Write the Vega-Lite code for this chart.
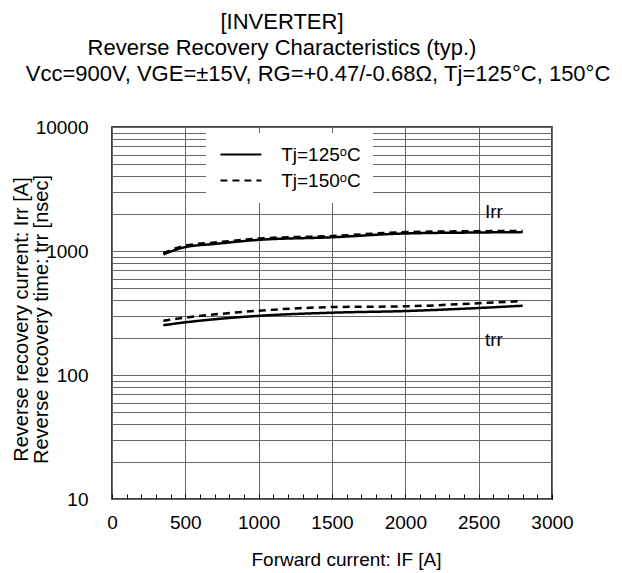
{
  "$schema": "https://vega.github.io/schema/vega-lite/v6.json",
  "width": 440,
  "height": 372,
  "autosize": {"type": "none"},
  "padding": {"left": 112, "top": 127, "right": 70, "bottom": 74},
  "config": {
    "font": "Liberation Sans",
    "view": {"stroke": "black", "strokeWidth": 1.5},
    "text": {"font": "Liberation Sans", "color": "black"}
  },
  "datasets": {
    "curves": [
      {"If": 350, "value": 940, "Tj": "Tj=125ᵒC", "param": "Irr"},
      {"If": 500, "value": 1075, "Tj": "Tj=125ᵒC", "param": "Irr"},
      {"If": 700, "value": 1140, "Tj": "Tj=125ᵒC", "param": "Irr"},
      {"If": 1000, "value": 1230, "Tj": "Tj=125ᵒC", "param": "Irr"},
      {"If": 1500, "value": 1290, "Tj": "Tj=125ᵒC", "param": "Irr"},
      {"If": 2000, "value": 1385, "Tj": "Tj=125ᵒC", "param": "Irr"},
      {"If": 2500, "value": 1410, "Tj": "Tj=125ᵒC", "param": "Irr"},
      {"If": 2800, "value": 1420, "Tj": "Tj=125ᵒC", "param": "Irr"},
      {"If": 350, "value": 960, "Tj": "Tj=150ᵒC", "param": "Irr"},
      {"If": 500, "value": 1105, "Tj": "Tj=150ᵒC", "param": "Irr"},
      {"If": 700, "value": 1170, "Tj": "Tj=150ᵒC", "param": "Irr"},
      {"If": 1000, "value": 1260, "Tj": "Tj=150ᵒC", "param": "Irr"},
      {"If": 1500, "value": 1320, "Tj": "Tj=150ᵒC", "param": "Irr"},
      {"If": 2000, "value": 1420, "Tj": "Tj=150ᵒC", "param": "Irr"},
      {"If": 2500, "value": 1445, "Tj": "Tj=150ᵒC", "param": "Irr"},
      {"If": 2800, "value": 1450, "Tj": "Tj=150ᵒC", "param": "Irr"},
      {"If": 350, "value": 252, "Tj": "Tj=125ᵒC", "param": "trr"},
      {"If": 500, "value": 266, "Tj": "Tj=125ᵒC", "param": "trr"},
      {"If": 750, "value": 285, "Tj": "Tj=125ᵒC", "param": "trr"},
      {"If": 1000, "value": 300, "Tj": "Tj=125ᵒC", "param": "trr"},
      {"If": 1500, "value": 318, "Tj": "Tj=125ᵒC", "param": "trr"},
      {"If": 2000, "value": 328, "Tj": "Tj=125ᵒC", "param": "trr"},
      {"If": 2500, "value": 347, "Tj": "Tj=125ᵒC", "param": "trr"},
      {"If": 2800, "value": 362, "Tj": "Tj=125ᵒC", "param": "trr"},
      {"If": 350, "value": 274, "Tj": "Tj=150ᵒC", "param": "trr"},
      {"If": 500, "value": 290, "Tj": "Tj=150ᵒC", "param": "trr"},
      {"If": 750, "value": 312, "Tj": "Tj=150ᵒC", "param": "trr"},
      {"If": 1000, "value": 330, "Tj": "Tj=150ᵒC", "param": "trr"},
      {"If": 1500, "value": 353, "Tj": "Tj=150ᵒC", "param": "trr"},
      {"If": 2000, "value": 358, "Tj": "Tj=150ᵒC", "param": "trr"},
      {"If": 2500, "value": 379, "Tj": "Tj=150ᵒC", "param": "trr"},
      {"If": 2800, "value": 395, "Tj": "Tj=150ᵒC", "param": "trr"}
    ]
  },
  "layer": [
    {
      "data": {"name": "curves"},
      "mark": {"type": "line", "color": "black", "strokeWidth": 2.5, "interpolate": "monotone"},
      "encoding": {
        "x": {
          "field": "If",
          "type": "quantitative",
          "scale": {"domain": [0, 3000], "nice": false},
          "axis": {
            "values": [0, 100, 200, 300, 400, 500, 600, 700, 800, 900, 1000, 1100, 1200, 1300, 1400, 1500, 1600, 1700, 1800, 1900, 2000, 2100, 2200, 2300, 2400, 2500, 2600, 2700, 2800, 2900, 3000],
            "tickCount": 100,
            "format": "d",
            "labelExpr": "datum.value % 500 === 0 ? datum.label : ''",
            "grid": true,
            "gridColor": "#666666",
            "gridWidth": 1,
            "gridOpacity": {"condition": {"test": "datum.value % 500 === 0", "value": 1}, "value": 0},
            "ticks": true,
            "tickSize": -5,
            "tickColor": "black",
            "domain": false,
            "labelFontSize": 19,
            "labelColor": "black",
            "labelPadding": 19,
            "labelFlush": false,
            "labelOverlap": false,
            "title": "Forward current: IF [A]",
            "titleFontSize": 19,
            "titleFontWeight": "normal",
            "titleColor": "black",
            "titleX": 234,
            "titleY": 60,
            "titleAlign": "center",
            "titleBaseline": "middle"
          }
        },
        "y": {
          "field": "value",
          "type": "quantitative",
          "scale": {"type": "log", "domain": [10, 10000], "nice": false},
          "axis": {
            "values": [10, 20, 30, 40, 50, 60, 70, 80, 90, 100, 200, 300, 400, 500, 600, 700, 800, 900, 1000, 2000, 3000, 4000, 5000, 6000, 7000, 8000, 9000, 10000],
            "tickCount": 100,
            "format": "d",
            "labelExpr": "datum.value == 10 || datum.value == 100 || datum.value == 1000 || datum.value == 10000 ? datum.label : ''",
            "grid": true,
            "gridColor": "#666666",
            "gridWidth": 1,
            "ticks": false,
            "domain": false,
            "labelFontSize": 19,
            "labelColor": "black",
            "labelPadding": 24,
            "labelOverlap": false,
            "labelFlush": false,
            "title": ["Reverse recovery current: Irr [A]", "Reverse recovery time: trr [nsec]"],
            "titleFontSize": 20,
            "titleFontWeight": "normal",
            "titleColor": "black",
            "titleLineHeight": 20,
            "titleAngle": -90,
            "titleX": -91,
            "titleY": 192,
            "titleAlign": "center",
            "titleBaseline": "middle"
          }
        },
        "detail": {"field": "param"},
        "strokeDash": {
          "field": "Tj",
          "type": "nominal",
          "scale": {"domain": ["Tj=125ᵒC", "Tj=150ᵒC"], "range": [[1, 0], [7, 5]]},
          "legend": {
            "title": null,
            "orient": "none",
            "legendX": 94,
            "legendY": 6,
            "fillColor": "white",
            "padding": 12,
            "symbolType": "M-4,0H4",
            "symbolSize": 105,
            "symbolOffset": 13.4,
            "symbolStrokeWidth": 2,
            "symbolStrokeColor": "black",
            "labelFontSize": 19,
            "labelColor": "black",
            "labelOffset": 30.75,
            "rowPadding": 6
          }
        }
      }
    },
    {
      "data": {"values": [{}]},
      "mark": {"type": "text", "text": "Irr", "align": "left", "baseline": "middle", "fontSize": 19},
      "encoding": {
        "x": {"datum": 2543, "type": "quantitative"},
        "y": {"datum": 2063, "type": "quantitative", "scale": {"type": "log", "domain": [10, 10000], "nice": false}}
      }
    },
    {
      "data": {"values": [{}]},
      "mark": {"type": "text", "text": "trr", "align": "left", "baseline": "middle", "fontSize": 19},
      "encoding": {
        "x": {"datum": 2543, "type": "quantitative"},
        "y": {"datum": 191, "type": "quantitative", "scale": {"type": "log", "domain": [10, 10000], "nice": false}}
      }
    },
    {
      "data": {"values": [{}]},
      "mark": {"type": "text", "text": "[INVERTER]", "align": "center", "baseline": "middle", "fontSize": 22},
      "encoding": {
        "x": {"datum": 1159, "type": "quantitative"},
        "y": {"datum": 70300, "type": "quantitative", "scale": {"type": "log", "domain": [10, 10000], "nice": false}}
      }
    },
    {
      "data": {"values": [{}]},
      "mark": {"type": "text", "text": "Reverse Recovery Characteristics (typ.)", "align": "center", "baseline": "middle", "fontSize": 22},
      "encoding": {
        "x": {"datum": 1159, "type": "quantitative"},
        "y": {"datum": 43370, "type": "quantitative", "scale": {"type": "log", "domain": [10, 10000], "nice": false}}
      }
    },
    {
      "data": {"values": [{}]},
      "mark": {"type": "text", "text": "Vcc=900V, VGE=±15V, RG=+0.47/-0.68Ω, Tj=125°C, 150°C", "align": "center", "baseline": "middle", "fontSize": 22},
      "encoding": {
        "x": {"datum": 1405, "type": "quantitative"},
        "y": {"datum": 26760, "type": "quantitative", "scale": {"type": "log", "domain": [10, 10000], "nice": false}}
      }
    }
  ]
}
